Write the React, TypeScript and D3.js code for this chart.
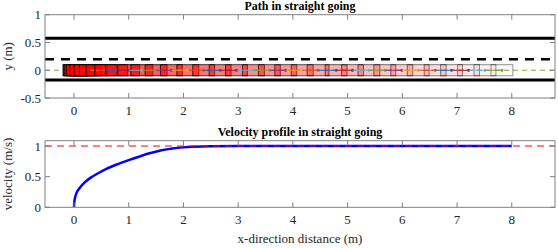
import React from "react";
import * as d3 from "d3";

// vehicle centre positions along x (m), one per time step
const carX = [0, 0.02, 0.06, 0.12, 0.2, 0.3, 0.42, 0.58, 0.78, 1.0, 1.24, 1.5, 1.78, 2.08, 2.37, 2.67,
  2.97, 3.28, 3.57, 3.87, 4.17, 4.46, 4.79, 5.09, 5.39, 5.68, 5.99, 6.29, 6.6, 6.9, 7.21, 7.51, 7.82];

// velocity profile
const velX = [0, 0.005, 0.02, 0.05, 0.1, 0.2, 0.3, 0.45, 0.6, 0.8, 1.0, 1.2, 1.4, 1.6, 1.8, 2.0, 2.2, 2.5, 3, 4, 5, 6, 7, 8];
const velV = [0, 0.08, 0.16, 0.24, 0.31, 0.41, 0.48, 0.56, 0.63, 0.705, 0.77, 0.83, 0.885, 0.93, 0.96, 0.978, 0.988, 0.996, 1, 1, 1, 1, 1, 1];

const laneLines = [0.575, -0.175];
const centreLine = 0.2;
const refVel = 1;

const xTicks = [0, 1, 2, 3, 4, 5, 6, 7, 8];
const yTicksPath = [-0.5, 0, 0.5, 1];
const yTicksVel = [0, 0.5, 1];

const carLen = 0.4, carWid = 0.2;
const palette = ["#0072BD", "#D95319", "#EDB120", "#7E2F8E", "#77AC30", "#4DBEEE", "#A2142F"];

const W = 558, H = 248;
const left = 45, right = 555;
const font = "'Liberation Serif', 'Times New Roman', serif";

const x = d3.scaleLinear().domain([-0.53, 8.79]).range([left, right]);
const yPath = d3.scaleLinear().domain([-0.5, 1]).range([98, 14.7]);
const yVel = d3.scaleLinear().domain([0, 1.087]).range([207.3, 140.7]);

const Axes = ({ y, yTicks, title, ylabel }: any) => {
  const [b, t] = y.range();
  const tl = 5;
  return (
    <g fontFamily={font}>
      <rect x={left} y={t} width={right - left} height={b - t} fill="none" stroke="#808080" strokeWidth={1} />
      {xTicks.map((d) => (
        <g key={"x" + d}>
          <line x1={x(d)} x2={x(d)} y1={b} y2={b - tl} stroke="#808080" />
          <line x1={x(d)} x2={x(d)} y1={t} y2={t + tl} stroke="#808080" />
          <text x={x(d)} y={b + 17} textAnchor="middle" fontSize={13} fill="#262626">{d}</text>
        </g>
      ))}
      {yTicks.map((d: number) => (
        <g key={"y" + d}>
          <line x1={left} x2={left + tl} y1={y(d)} y2={y(d)} stroke="#808080" />
          <line x1={right} x2={right - tl} y1={y(d)} y2={y(d)} stroke="#808080" />
          <text x={41} y={y(d)} dy="0.35em" textAnchor="end" fontSize={13} fill="#262626">{d}</text>
        </g>
      ))}
      <text x={(left + right) / 2} y={t - 5} textAnchor="middle" fontSize={12} fontWeight="bold" fill="#000">{title}</text>
      <text transform={`translate(12,${(t + b) / 2}) rotate(-90)`} textAnchor="middle" fontSize={13} fill="#262626">{ylabel}</text>
    </g>
  );
};

const App = () => {
  const n = carX.length;
  const velLine = d3.line<number>().x((d) => x(d)).y((_, i) => yVel(velV[i])).curve(d3.curveMonotoneX);
  return (
    <svg width={W} height={H} style={{ position: "absolute", left: 0, top: 0, background: "#fff" }}>
      <defs>
        <clipPath id="c1"><rect x={left} y={14.7} width={right - left} height={98 - 14.7} /></clipPath>
        <clipPath id="c2"><rect x={left} y={140.7} width={right - left} height={207.3 - 140.7} /></clipPath>
      </defs>
      <rect width={W} height={H} fill="#fff" />
      <g clipPath="url(#c1)">
        {laneLines.map((d) => (
          <line key={d} x1={left} x2={right} y1={yPath(d)} y2={yPath(d)} stroke="#000" strokeWidth={3} />
        ))}
        <line x1={left} x2={right} y1={yPath(centreLine)} y2={yPath(centreLine)} stroke="#000" strokeWidth={2.5} strokeDasharray="9,7" />
        <line x1={left} x2={right} y1={yPath(0)} y2={yPath(0)} stroke="#77AC30" strokeWidth={1} strokeDasharray="5,4" />
        {carX.map((c, i) => {
          const a = 1 - i / n;
          const col = palette[(4 + (n - 1 - i)) % 7];
          return (
            <g key={i}>
              <rect x={x(c - carLen / 2)} y={yPath(carWid / 2)} width={x(c + carLen / 2) - x(c - carLen / 2)}
                height={yPath(-carWid / 2) - yPath(carWid / 2)} fill="#ff0000" fillOpacity={a * 0.95}
                stroke="#000" strokeOpacity={1 - (i / n) * 0.6} strokeWidth={1} />
              {i > 0 && <line x1={x(carX[i - 1])} x2={x(c)} y1={yPath(0)} y2={yPath(0)} stroke={col} strokeWidth={1} />}
              <circle cx={x(c)} cy={yPath(0)} r={1.5} fill={col} />
            </g>
          );
        })}
      </g>
      <Axes y={yPath} yTicks={yTicksPath} title="Path in straight going" ylabel="y (m)" />

      <g clipPath="url(#c2)">
        <path d={velLine(velX) || ""} fill="none" stroke="#0000ff" strokeWidth={2.5} />
        <line x1={left} x2={right} y1={yVel(refVel)} y2={yVel(refVel)} stroke="#ff0000" strokeWidth={1} strokeDasharray="7,5" />
      </g>
      <Axes y={yVel} yTicks={yTicksVel} title="Velocity profile in straight going" ylabel="velocity (m/s)" />
      <text x={(left + right) / 2} y={243} textAnchor="middle" fontSize={13} fontFamily={font} fill="#262626">x-direction distance (m)</text>
    </svg>
  );
};

export default App;
